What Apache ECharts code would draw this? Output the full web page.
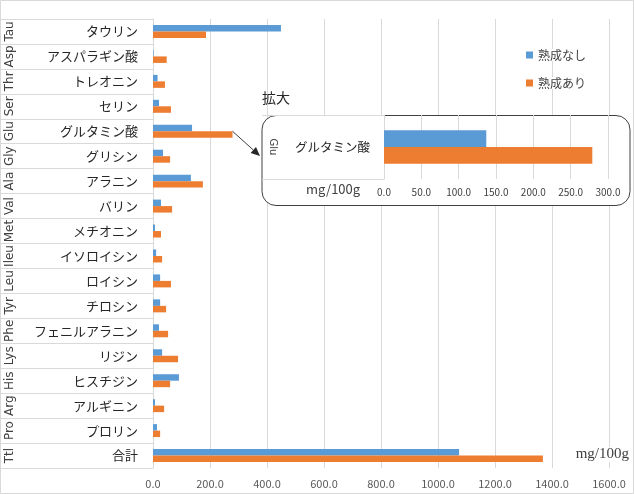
<!DOCTYPE html>
<html>
<head>
<meta charset="utf-8">
<script src="https://cdn.jsdelivr.net/npm/echarts@6/dist/echarts.min.js"></script>
<style>
  html, body { margin: 0; padding: 0; background: #fff; }
  #main { width: 634px; height: 494px; }
</style>
</head>
<body>
<div id="main"></div>
<script>
// アミノ酸（略号・名称）
var abbrs = ['Tau', 'Asp', 'Thr', 'Ser', 'Glu', 'Gly', 'Ala', 'Val', 'Met', 'Ileu', 'Leu', 'Tyr', 'Phe', 'Lys', 'His', 'Arg', 'Pro', 'Ttl']
var names = ['タウリン', 'アスパラギン酸', 'トレオニン', 'セリン', 'グルタミン酸', 'グリシン', 'アラニン', 'バリン', 'メチオニン', 'イソロイシン', 'ロイシン', 'チロシン', 'フェニルアラニン', 'リジン', 'ヒスチジン', 'アルギニン', 'プロリン', '合計']
// mg/100g
var notAged = [449, 2, 16, 21, 137, 35, 133, 28, 7, 11, 25, 25, 21, 32, 91, 7, 14, 1074]
var aged = [186, 48, 42, 63, 279, 60, 175, 67, 28, 32, 63, 46, 53, 88, 60, 39, 25, 1368]
// 拡大（グルタミン酸）
var zoomIndex = 4
var seriesNames = ['熟成なし', '熟成あり']
var mainAxis = { max: 1600, step: 200 }
var zoomAxis = { max: 300, step: 50 }

var BLUE = '#5B9BD5'
var ORANGE = '#ED7D31'
var GRID_LINE = '#d9d9d9'
var FONT = 'Noto Sans CJK JP'

var chart = echarts.init(document.getElementById('main'))

function fmt (v) { return Number(v).toFixed(1) }

chart.setOption({
  animation: false,
  textStyle: { fontFamily: FONT },
  legend: {
    data: seriesNames,
    orient: 'vertical',
    left: 521,
    top: 44,
    itemWidth: 7,
    itemHeight: 7,
    itemGap: 16,
    icon: 'rect',
    textStyle: { fontSize: 12, color: '#404040', backgroundColor: '#fff', fontFamily: FONT }
  },
  grid: [
    { left: 153, right: 25, top: 19, bottom: 26 },
    { left: 384, right: 26, top: 115, bottom: 315 }
  ],
  xAxis: [
    {
      gridIndex: 0,
      type: 'value',
      min: 0,
      max: mainAxis.max,
      interval: mainAxis.step,
      axisLine: { show: false },
      axisTick: { show: false },
      splitLine: { lineStyle: { color: GRID_LINE, width: 1 } },
      axisLabel: { formatter: fmt, fontSize: 11, color: '#595959', margin: 10, fontFamily: FONT }
    },
    {
      gridIndex: 1,
      type: 'value',
      min: 0,
      max: zoomAxis.max,
      interval: zoomAxis.step,
      z: 6,
      axisLine: { show: false },
      axisTick: { show: false },
      splitLine: { lineStyle: { color: GRID_LINE, width: 1 } },
      axisLabel: { formatter: fmt, fontSize: 10, color: '#404040', margin: 8, fontFamily: FONT }
    }
  ],
  yAxis: [
    {
      gridIndex: 0,
      type: 'category',
      data: names,
      inverse: true,
      axisLine: { show: true, lineStyle: { color: GRID_LINE } },
      axisTick: { show: true, length: 152, lineStyle: { color: GRID_LINE } },
      axisLabel: { interval: 0, fontSize: 13, color: '#262626', margin: 15, fontFamily: FONT }
    },
    {
      gridIndex: 1,
      type: 'category',
      data: [names[zoomIndex]],
      z: 6,
      axisLine: { show: true, lineStyle: { color: GRID_LINE } },
      axisTick: { show: true, length: 122, lineStyle: { color: GRID_LINE } },
      axisLabel: { fontSize: 12.5, color: '#262626', margin: 14, fontFamily: FONT }
    }
  ],
  series: [
    {
      name: seriesNames[0],
      type: 'bar',
      xAxisIndex: 0,
      yAxisIndex: 0,
      data: notAged,
      itemStyle: { color: BLUE },
      barGap: '0%',
      barCategoryGap: '48%'
    },
    {
      name: seriesNames[1],
      type: 'bar',
      xAxisIndex: 0,
      yAxisIndex: 0,
      data: aged,
      itemStyle: { color: ORANGE },
      barGap: '0%',
      barCategoryGap: '48%'
    },
    {
      name: seriesNames[0],
      type: 'bar',
      xAxisIndex: 1,
      yAxisIndex: 1,
      z: 7,
      data: [notAged[zoomIndex]],
      itemStyle: { color: BLUE },
      barGap: '0%',
      barCategoryGap: '48%'
    },
    {
      name: seriesNames[1],
      type: 'bar',
      xAxisIndex: 1,
      yAxisIndex: 1,
      z: 7,
      data: [aged[zoomIndex]],
      itemStyle: { color: ORANGE },
      barGap: '0%',
      barCategoryGap: '48%'
    }
  ],
  graphic: [
    {
      id: 'frame',
      type: 'rect',
      z: 0,
      silent: true,
      shape: { x: 0.5, y: 0.5, width: 633, height: 493 },
      style: { fill: 'none', stroke: GRID_LINE, lineWidth: 1 }
    },
    {
      id: 'zoomBox',
      type: 'rect',
      z: 5,
      shape: { x: 262, y: 115.5, width: 368, height: 90, r: 14 },
      style: { fill: '#fff', stroke: '#404040', lineWidth: 1 }
    },
    {
      id: 'zoomTitle',
      type: 'text',
      z: 5,
      left: 262,
      top: 91,
      style: { text: '拡大', font: '14px "Noto Sans CJK JP"', fill: '#262626' }
    },
    {
      id: 'zoomUnit',
      type: 'text',
      z: 8,
      left: 306,
      top: 183,
      style: { text: 'mg/100g', font: '13px "Noto Sans CJK JP"', fill: '#404040' }
    },
    {
      id: 'mainUnit',
      type: 'text',
      z: 5,
      right: 5,
      top: 447,
      style: { text: 'mg/100g', font: '15px "Liberation Serif"', fill: '#404040', backgroundColor: '#fff' }
    }
  ]
})

var extra = []

// 略号（縦書き）：各カテゴリの中心に配置
abbrs.forEach(function (a, i) {
  var p = chart.convertToPixel({ xAxisIndex: 0, yAxisIndex: 0 }, [0, i])
  extra.push({
    type: 'text',
    z: 5,
    x: 10,
    y: p[1],
    rotation: Math.PI / 2,
    style: { text: a, font: '12px "DejaVu Sans"', fill: '#404040', align: 'center', verticalAlign: 'middle' }
  })
})
var pz = chart.convertToPixel({ xAxisIndex: 1, yAxisIndex: 1 }, [0, 0])
extra.push({
  type: 'text',
  z: 8,
  x: 273,
  y: pz[1],
  rotation: -Math.PI / 2,
  style: { text: abbrs[zoomIndex], font: '10px "DejaVu Sans"', fill: '#404040', align: 'center', verticalAlign: 'middle' }
})

// 矢印：グルタミン酸の棒の先端から拡大枠へ
var start = chart.convertToPixel({ xAxisIndex: 0, yAxisIndex: 0 }, [aged[zoomIndex], zoomIndex])
var end = [260, 156]
var ang = Math.atan2(end[1] - start[1], end[0] - start[0])
var headLen = 9
var headW = 4
var base = [end[0] - headLen * Math.cos(ang), end[1] - headLen * Math.sin(ang)]
extra.push({
  type: 'line',
  z: 6,
  shape: { x1: start[0], y1: start[1], x2: base[0], y2: base[1] },
  style: { stroke: '#404040', lineWidth: 1 }
})
extra.push({
  type: 'polygon',
  z: 6,
  shape: {
    points: [
      end,
      [base[0] + headW * Math.sin(ang), base[1] - headW * Math.cos(ang)],
      [base[0] - headW * Math.sin(ang), base[1] + headW * Math.cos(ang)]
    ]
  },
  style: { fill: '#262626' }
})

var opt = chart.getOption()
chart.setOption({ graphic: opt.graphic[0].elements.concat(extra) }, { replaceMerge: ['graphic'] })
</script>
</body>
</html>
